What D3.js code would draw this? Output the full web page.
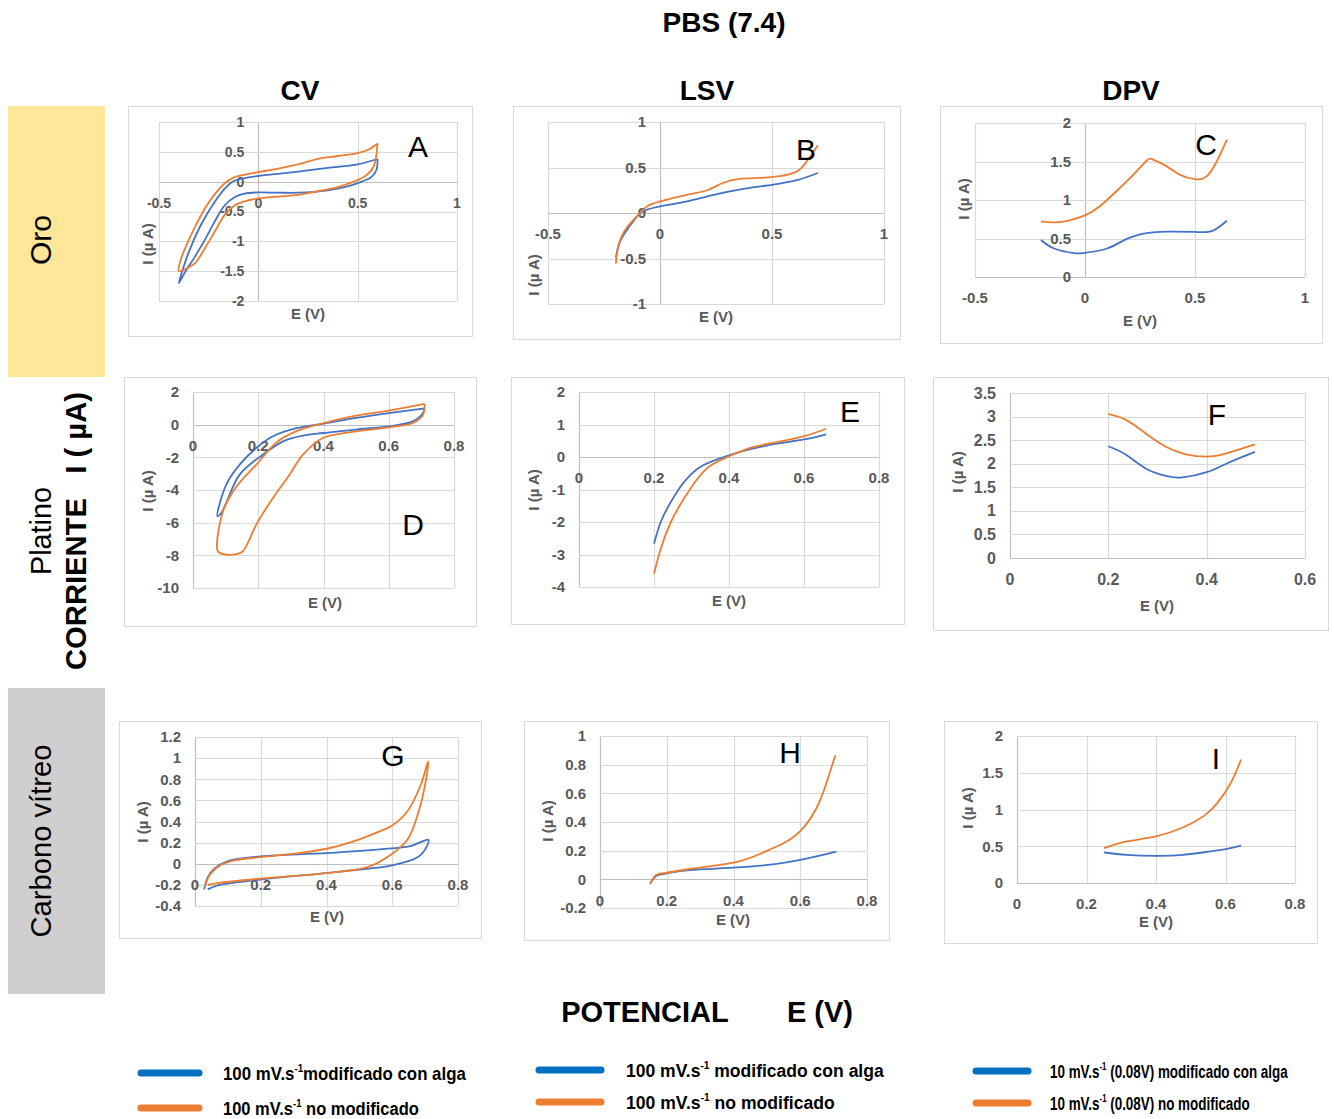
<!DOCTYPE html>
<html>
<head>
<meta charset="utf-8">
<script src="https://cdn.jsdelivr.net/npm/d3@7"></script>
<style>
  body { margin: 0; background: #fff; }
  svg { display: block; }
  text { font-family: "Liberation Sans", Arial, sans-serif; }
</style>
</head>
<body>
<svg id="fig" width="1334" height="1119"></svg>
<script>
// ---------- Series: [E (V), I (µA)] ----------
// Oro
const oroCvAlga = [[0.60,0.38],[0.5,0.29],[0.35,0.23],[0.2,0.17],[0.1,0.13],[0,0.095],[-0.1,0.04],[-0.13,0],[-0.17,-0.12],[-0.22,-0.34],[-0.29,-0.73],[-0.35,-1.18],[-0.40,-1.70],
  [-0.373,-1.54],[-0.32,-1.26],[-0.27,-0.98],[-0.22,-0.67],[-0.17,-0.4],[-0.12,-0.26],[-0.07,-0.2],[0,-0.18],[0.1,-0.185],[0.2,-0.185],[0.35,-0.145],[0.45,-0.08],[0.52,0],[0.57,0.08],[0.595,0.2],[0.60,0.38]];
const oroCvSin = [[0.6,0.64],[0.55,0.53],[0.5,0.48],[0.4,0.43],[0.3,0.38],[0.2,0.29],[0.1,0.22],[0,0.16],[-0.08,0.11],[-0.13,0.06],[-0.17,-0.03],[-0.21,-0.17],[-0.26,-0.4],[-0.31,-0.7],[-0.36,-1.05],[-0.39,-1.3],[-0.40,-1.5],
  [-0.36,-1.45],[-0.32,-1.37],[-0.27,-1.12],[-0.22,-0.84],[-0.17,-0.56],[-0.12,-0.4],[-0.07,-0.33],[0,-0.28],[0.1,-0.25],[0.2,-0.22],[0.3,-0.16],[0.4,-0.09],[0.48,0],[0.54,0.1],[0.58,0.25],[0.6,0.64]];
const oroLsvAlga = [[-0.197,-0.49],[-0.178,-0.31],[-0.14,-0.16],[-0.096,-0.02],[-0.06,0.036],[0,0.073],[0.12,0.127],[0.24,0.2],[0.386,0.27],[0.5,0.31],[0.61,0.36],[0.705,0.44]];
const oroLsvSin = [[-0.197,-0.556],[-0.185,-0.35],[-0.148,-0.16],[-0.096,-0.02],[-0.06,0.07],[0,0.127],[0.12,0.2],[0.21,0.25],[0.28,0.33],[0.356,0.375],[0.445,0.385],[0.534,0.405],[0.61,0.455],[0.653,0.56],[0.705,0.745]];
const oroDpvAlga = [[-0.2,0.48],[-0.14,0.37],[-0.05,0.31],[0,0.314],[0.1,0.37],[0.19,0.495],[0.28,0.57],[0.37,0.59],[0.5,0.585],[0.58,0.6],[0.645,0.73]];
const oroDpvSin = [[-0.2,0.72],[-0.14,0.71],[-0.08,0.73],[0,0.8],[0.07,0.925],[0.145,1.12],[0.22,1.33],[0.28,1.51],[0.31,1.525],[0.37,1.44],[0.43,1.33],[0.5,1.27],[0.55,1.3],[0.595,1.48],[0.645,1.785]];
// Platino
const ptCvAlga = [[0.71,1.0],[0.6,0.71],[0.5,0.41],[0.4,0.06],[0.32,-0.2],[0.245,-0.71],[0.194,-1.43],[0.143,-2.45],[0.102,-3.67],[0.075,-5.6],
  [0.087,-5.4],[0.143,-3.06],[0.214,-1.84],[0.276,-1.02],[0.337,-0.67],[0.4,-0.51],[0.5,-0.3],[0.6,-0.1],[0.674,0.2],[0.705,0.71],[0.71,1.0]];
const ptCvSin = [[0.71,1.27],[0.6,0.86],[0.5,0.55],[0.4,0.1],[0.317,-0.4],[0.255,-1.1],[0.194,-2.45],[0.133,-3.8],[0.092,-5.3],[0.075,-7.7],
  [0.085,-7.88],[0.123,-7.96],[0.15,-7.8],[0.168,-7.24],[0.194,-6.12],[0.245,-4.49],[0.296,-3.06],[0.337,-1.84],[0.398,-0.82],[0.5,-0.41],[0.6,-0.16],[0.674,0.1],[0.705,0.6],[0.71,1.27]];
const ptLsvAlga = [[0.2,-2.67],[0.218,-2],[0.245,-1.38],[0.28,-0.77],[0.316,-0.36],[0.351,-0.15],[0.4,0.05],[0.457,0.24],[0.528,0.41],[0.6,0.54],[0.659,0.7]];
const ptLsvSin = [[0.2,-3.59],[0.218,-2.82],[0.245,-2],[0.28,-1.28],[0.316,-0.67],[0.351,-0.26],[0.4,0.02],[0.457,0.28],[0.528,0.46],[0.6,0.64],[0.659,0.87]];
const ptDpvAlga = [[0.2,2.37],[0.236,2.19],[0.276,1.9],[0.317,1.74],[0.351,1.71],[0.4,1.82],[0.44,2.0],[0.498,2.25]];
const ptDpvSin = [[0.2,3.05],[0.236,2.93],[0.276,2.64],[0.317,2.36],[0.358,2.2],[0.4,2.15],[0.44,2.22],[0.498,2.41]];
// Carbono vítreo
const gcCvAlga = [[0.028,-0.243],[0.039,-0.126],[0.059,-0.047],[0.1,0.025],[0.2,0.07],[0.4,0.1],[0.578,0.14],[0.658,0.17],[0.71,0.227],
  [0.704,0.158],[0.678,0.063],[0.6,-0.016],[0.475,-0.063],[0.4,-0.088],[0.2,-0.15],[0.069,-0.205],[0.039,-0.243]];
const gcCvSin = [[0.03,-0.22],[0.044,-0.11],[0.069,-0.03],[0.11,0.025],[0.2,0.063],[0.3,0.095],[0.4,0.142],[0.475,0.205],[0.556,0.3],[0.6,0.363],[0.648,0.505],[0.688,0.757],[0.709,0.97],
  [0.704,0.82],[0.678,0.47],[0.648,0.237],[0.6,0.095],[0.526,-0.03],[0.4,-0.088],[0.2,-0.14],[0.069,-0.183],[0.039,-0.2]];
const gcLsvAlga = [[0.15,-0.032],[0.168,0.023],[0.2,0.042],[0.268,0.065],[0.4,0.081],[0.518,0.104],[0.6,0.135],[0.668,0.17],[0.708,0.193]];
const gcLsvSin = [[0.15,-0.032],[0.168,0.03],[0.2,0.046],[0.268,0.072],[0.4,0.116],[0.488,0.186],[0.548,0.25],[0.6,0.336],[0.648,0.494],[0.678,0.668],[0.705,0.865]];
const gcDpvAlga = [[0.25,0.415],[0.316,0.384],[0.4,0.37],[0.479,0.384],[0.556,0.43],[0.6,0.46],[0.645,0.51]];
const gcDpvSin = [[0.25,0.475],[0.316,0.566],[0.4,0.635],[0.479,0.758],[0.537,0.91],[0.575,1.08],[0.614,1.35],[0.645,1.68]];

// ---------- Tick labels ----------
const xTicksWide = [-0.5, 0, 0.5, 1];
const xTicksPos = [0, 0.2, 0.4, 0.6, 0.8];
const xTicksF = [0, 0.2, 0.4, 0.6];
const yTicksA = [1, 0.5, 0, -0.5, -1, -1.5, -2];
const yTicksB = [1, 0.5, 0, -0.5, -1];
const yTicksC = [2, 1.5, 1, 0.5, 0];
const yTicksD = [2, 0, -2, -4, -6, -8, -10];
const yTicksE = [2, 1, 0, -1, -2, -3, -4];
const yTicksF = [3.5, 3, 2.5, 2, 1.5, 1, 0.5, 0];
const yTicksG = [1.2, 1, 0.8, 0.6, 0.4, 0.2, 0, -0.2, -0.4];
const yTicksH = [1, 0.8, 0.6, 0.4, 0.2, 0, -0.2];
const yTicksI = [2, 1.5, 1, 0.5, 0];

// ---------- Text ----------
const panelLetters = ["A", "B", "C", "D", "E", "F", "G", "H", "I"];
const columnNames = ["CV", "LSV", "DPV"];
const rowNames = ["Oro", "Platino", "Carbono vítreo"];
const legendAlga = [["100 mV.s", "-1", "modificado con alga"], ["100 mV.s", "-1", " modificado con alga"], ["10 mV.s", "-1", " (0.08V) modificado con alga"]];
const legendSin = [["100 mV.s", "-1", " no modificado"], ["100 mV.s", "-1", " no modificado"], ["10 mV.s", "-1", " (0.08V) no modificado"]];

// ---------- Layout ----------
const BLUE = "#4472C4", ORANGE = "#ED7D31";
const svg = d3.select("#fig");

const panels = [
  { frame: [128,106,344,230], plot: [159,122,457,301], xt: xTicksWide, yt: yTicksA, s: [oroCvAlga, oroCvSin], loop: true,  letter: [418,146], xTitle: [308,314], yTitle: [148,244], fs: 14 },
  { frame: [513,106,387,233], plot: [548,122,884,304], xt: xTicksWide, yt: yTicksB, s: [oroLsvAlga, oroLsvSin], loop: false, letter: [806,149], xTitle: [716,317], yTitle: [534,275], fs: 15 },
  { frame: [940,106,382,237], plot: [975,123,1305,277], xt: xTicksWide, yt: yTicksC, s: [oroDpvAlga, oroDpvSin], loop: false, letter: [1206,144], xTitle: [1140,321], yTitle: [964,199], fs: 15 },
  { frame: [124,377,352,249], plot: [193,392,454,588], xt: xTicksPos, yt: yTicksD, s: [ptCvAlga, ptCvSin], loop: true,  letter: [413,524], xTitle: [325,603], yTitle: [148,491], fs: 15 },
  { frame: [511,377,393,247], plot: [579,392,879,587], xt: xTicksPos, yt: yTicksE, s: [ptLsvAlga, ptLsvSin], loop: false, letter: [850,411], xTitle: [729,601], yTitle: [534,490], fs: 15 },
  { frame: [933,377,395,253], plot: [1010,393,1305,558], xt: xTicksF, yt: yTicksF, s: [ptDpvAlga, ptDpvSin], loop: false, letter: [1217,414], xTitle: [1157,606], yTitle: [958,472], fs: 16 },
  { frame: [119,721,362,217], plot: [195,737,458,906], xt: xTicksPos, yt: yTicksG, s: [gcCvAlga, gcCvSin], loop: true,  letter: [393,755], xTitle: [327,917], yTitle: [143,822], fs: 15 },
  { frame: [524,721,365,219], plot: [600,736,867,908], xt: xTicksPos, yt: yTicksH, s: [gcLsvAlga, gcLsvSin], loop: false, letter: [790,752], xTitle: [733,920], yTitle: [548,821], fs: 15 },
  { frame: [944,721,373,222], plot: [1017,736,1295,883], xt: xTicksPos, yt: yTicksI, s: [gcDpvAlga, gcDpvSin], loop: false, letter: [1216,758], xTitle: [1156,922], yTitle: [968,808], fs: 15 }
];

// Row bands on the left
svg.append("rect").attr("x", 8).attr("y", 106).attr("width", 97).attr("height", 271).attr("fill", "#FFE699");
svg.append("rect").attr("x", 8).attr("y", 688).attr("width", 97).attr("height", 306).attr("fill", "#D0CECE");

// Horizontally squeeze a text node so it spans the given width
function fit(textSel, width) {
  const w = textSel.node().getComputedTextLength();
  const k = width / w;
  const prev = textSel.attr("transform") || "";
  textSel.attr("transform", prev + ` scale(${k},1)`);
}

panels.forEach((p, i) => {
  const g = svg.append("g");
  const [fx, fy, fw, fh] = p.frame;
  g.append("rect").attr("x", fx + 0.5).attr("y", fy + 0.5).attr("width", fw).attr("height", fh)
    .attr("fill", "#fff").attr("stroke", "#D9D9D9");

  const x = d3.scaleLinear().domain([p.xt[0], p.xt[p.xt.length - 1]]).range([p.plot[0], p.plot[2]]);
  const yMax = d3.max(p.yt), yMin = d3.min(p.yt);
  const y = d3.scaleLinear().domain([yMin, yMax]).range([p.plot[3], p.plot[1]]);

  // gridlines
  g.selectAll(".gx").data(p.xt).join("line")
    .attr("x1", d => Math.round(x(d)) + 0.5).attr("x2", d => Math.round(x(d)) + 0.5)
    .attr("y1", p.plot[1]).attr("y2", p.plot[3])
    .attr("stroke", d => d === 0 ? "#BFBFBF" : "#D9D9D9").attr("stroke-width", 1.2);
  g.selectAll(".gy").data(p.yt).join("line")
    .attr("y1", d => Math.round(y(d)) + 0.5).attr("y2", d => Math.round(y(d)) + 0.5)
    .attr("x1", p.plot[0]).attr("x2", p.plot[2])
    .attr("stroke", d => d === 0 ? "#BFBFBF" : "#D9D9D9").attr("stroke-width", 1.2);

  // tick labels, anchored on the zero axes
  const x0 = x(0), y0 = y(0);
  g.selectAll(".ty").data(p.yt).join("text")
    .attr("x", x0 - 14).attr("y", d => y(d)).attr("dy", "0.35em")
    .attr("text-anchor", "end").attr("font-size", p.fs).attr("font-weight", "bold").attr("fill", "#595959")
    .text(d => String(d));
  g.selectAll(".tx").data(p.xt).join("text")
    .attr("x", d => x(d)).attr("y", y0 + 21).attr("dy", "0.35em")
    .attr("text-anchor", "middle").attr("font-size", p.fs).attr("font-weight", "bold").attr("fill", "#595959")
    .text(d => String(d));

  // axis titles
  g.append("text").attr("x", p.xTitle[0]).attr("y", p.xTitle[1]).attr("dy", "0.35em")
    .attr("text-anchor", "middle").attr("font-size", 15).attr("font-weight", "bold").attr("fill", "#595959")
    .text("E (V)");
  g.append("text").attr("transform", `translate(${p.yTitle[0]},${p.yTitle[1]}) rotate(-90)`).attr("dy", "0.35em")
    .attr("text-anchor", "middle").attr("font-size", 15).attr("font-weight", "bold").attr("fill", "#595959")
    .text("I (µ A)");

  // smoothed curves: closed-ish voltammogram loops vs. single sweeps
  const line = d3.line().x(d => x(d[0])).y(d => y(d[1]))
    .curve(p.loop ? d3.curveCatmullRom.alpha(0.5) : d3.curveNatural);
  [[p.s[0], BLUE], [p.s[1], ORANGE]].forEach(([data, c]) => {
    g.append("path").attr("d", line(data)).attr("fill", "none").attr("stroke", c)
      .attr("stroke-width", 1.8).attr("stroke-linejoin", "round");
  });

  // panel letter
  g.append("text").attr("x", p.letter[0]).attr("y", p.letter[1]).attr("dy", "0.35em")
    .attr("text-anchor", "middle").attr("font-size", 30).attr("fill", "#000").text(panelLetters[i]);
});

// Titles
svg.append("text").attr("x", 724).attr("y", 22).attr("dy", "0.35em").attr("text-anchor", "middle")
  .attr("font-size", 28).attr("font-weight", "bold").text("PBS (7.4)");
[300, 707, 1131].forEach((cx, i) => {
  svg.append("text").attr("x", cx).attr("y", 90).attr("dy", "0.35em").attr("text-anchor", "middle")
    .attr("font-size", 28).attr("font-weight", "bold").text(columnNames[i]);
});
svg.append("text").attr("x", 645).attr("y", 1012).attr("dy", "0.35em").attr("text-anchor", "middle")
  .attr("font-size", 29).attr("font-weight", "bold").text("POTENCIAL");
svg.append("text").attr("x", 820).attr("y", 1012).attr("dy", "0.35em").attr("text-anchor", "middle")
  .attr("font-size", 29).attr("font-weight", "bold").text("E (V)");

// Row labels (rotated, condensed)
const rowPos = [[40, 240, 50], [40, 531, 88], [40, 841, 193]];
rowPos.forEach(([cx, cy, w], i) => {
  const t = svg.append("g").attr("transform", `translate(${cx},${cy}) rotate(-90)`)
    .append("text").attr("text-anchor", "middle").attr("dy", "0.35em")
    .attr("font-size", 30).attr("fill", "#000").text(rowNames[i]);
  fit(t, w);
});
{
  const t = svg.append("g").attr("transform", `translate(75,531) rotate(-90)`)
    .append("text").attr("text-anchor", "middle").attr("dy", "0.35em").style("white-space", "pre")
    .attr("font-size", 30).attr("font-weight", "bold").attr("fill", "#000").text("CORRIENTE   I ( µA)");
  fit(t, 278);
}

// Legends
const legendGroups = [
  { sx: [141, 199], tx: 223, y: [1073, 1108], w: [243, 196] },
  { sx: [539, 601], tx: 626, y: [1070, 1102], w: [258, 209] },
  { sx: [976, 1028], tx: 1050, y: [1071, 1103], w: [238, 200] }
];
legendGroups.forEach((lg, i) => {
  [[legendAlga[i], "#0070C0", 0], [legendSin[i], "#ED7D31", 1]].forEach(([parts, c, k]) => {
    svg.append("line").attr("x1", lg.sx[0]).attr("x2", lg.sx[1]).attr("y1", lg.y[k]).attr("y2", lg.y[k])
      .attr("stroke", c).attr("stroke-width", 7).attr("stroke-linecap", "round");
    const t = svg.append("text").attr("transform", `translate(${lg.tx},${lg.y[k] + 7})`)
      .style("white-space", "pre").attr("font-size", 19).attr("font-weight", "bold").attr("fill", "#000");
    t.append("tspan").text(parts[0]);
    t.append("tspan").attr("dy", -8).attr("font-size", 11).text(parts[1]);
    t.append("tspan").attr("dy", 8).text(parts[2]);
    fit(t, lg.w[k]);
  });
});
</script>
</body>
</html>
